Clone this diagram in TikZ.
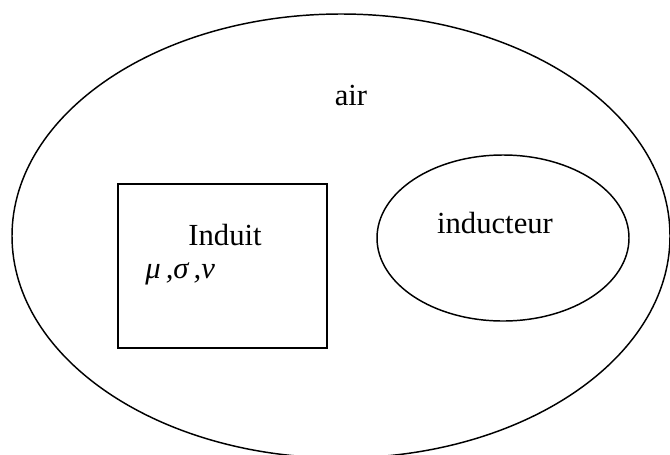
\documentclass[tikz,border=0pt]{standalone}
\usepackage{fontspec}
\setmainfont{Liberation Serif}
\usetikzlibrary{shapes.geometric}

\begin{document}
\begin{tikzpicture}[
  x=0.75pt,y=-0.75pt,
  outline/.style={draw=black,line width=1.1pt,inner sep=0pt},
  zone/.style={outline,ellipse},
  lbl/.style={anchor=base,inner sep=0pt,font=\fontsize{23}{27}\selectfont}
]
\useasboundingbox (0,0) rectangle (670,454);
\clip (0,0) rectangle (670,454);
% domaine d'air
\node[zone,minimum width=493.5pt,minimum height=333pt] (airzone) at (341,236) {};
\node[lbl] (air) at (351,105) {air};
% induit
\node[outline,rectangle,minimum width=156.75pt,minimum height=123pt]
  (induit) at (222.5,266) {};
\node[lbl] (induitlbl) at (225,245) {Induit};
\node[lbl,anchor=base west] (param) at (145,278) {\itshape μ\,,σ\,,ν};
% inducteur
\node[zone,minimum width=189pt,minimum height=124.5pt] (inducteur) at (503,238) {};
\node[lbl] (inducteurlbl) at (495,233) {inducteur};
\end{tikzpicture}
\end{document}
